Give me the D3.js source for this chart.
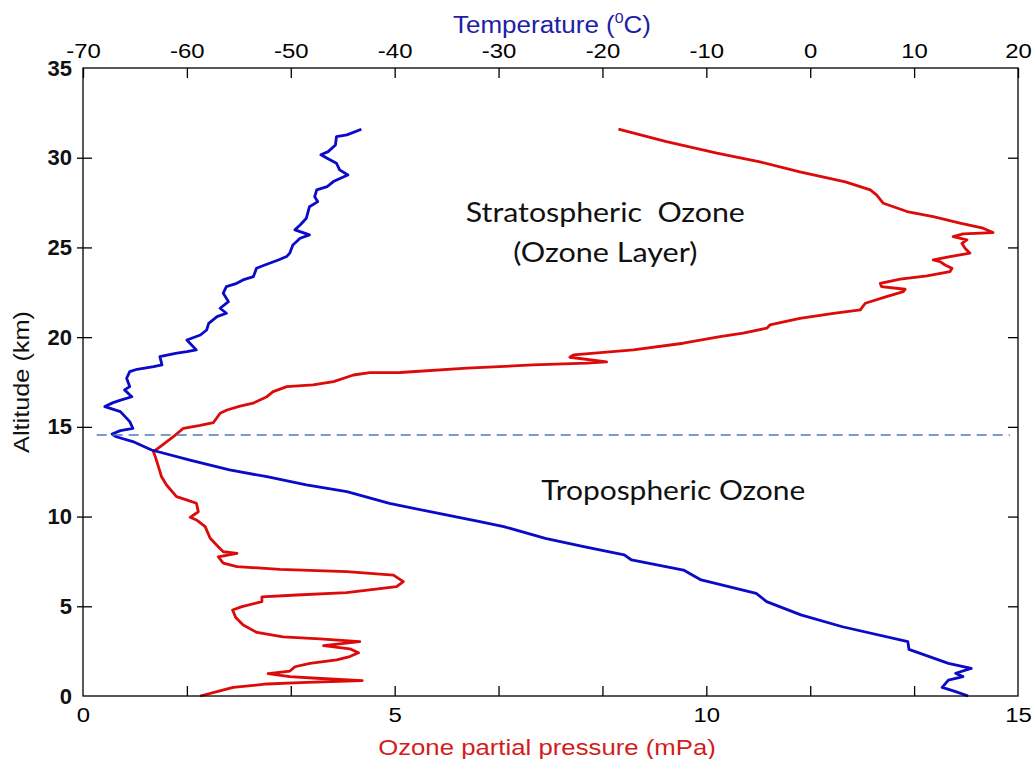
<!DOCTYPE html>
<html><head><meta charset="utf-8">
<script src="https://cdn.jsdelivr.net/npm/d3@7"></script>
<style>body{margin:0;background:#fff}svg{display:block}</style>
</head><body>
<svg id="chart" width="1036" height="759"></svg>
<script>
// ---- data ----
const altTicks = [0,5,10,15,20,25,30,35];
const ozoneTicks = [0,5,10,15];
const tempTicks = [-70,-60,-50,-40,-30,-20,-10,0,10,20];

const tempAlt = [31.59,31.27,31.18,30.71,30.34,30.16,29.97,29.69,29.32,29.04,
  28.91,28.67,28.39,28.21,27.83,27.55,27.27,26.63,26.25,25.98,
  25.70,25.51,25.14,24.68,24.49,24.30,24.02,23.84,23.37,23.19,
  23.00,22.82,22.45,21.98,21.61,21.33,21.14,20.77,20.40,20.12,
  19.84,19.29,19.19,19.10,18.91,18.45,18.36,18.21,18.08,17.71,
  17.24,17.06,16.68,16.50,16.35,16.13,15.85,15.29,14.92,14.79,
  14.60,14.45,14.18,13.71,13.15,12.60,12.22,11.76,11.39,10.74,
  10.27,9.72,9.44,8.79,8.32,7.86,7.58,7.02,6.47,5.72,
  5.26,4.52,3.86,3.03,2.60,1.82,1.54,1.27,1.08,0.89,
  0.48,0.24,0.0];
const tempVal = [-43.2,-44.6,-45.6,-45.7,-46.4,-47.1,-46.5,-45.6,-45.3,-44.5,
  -45.0,-45.9,-46.5,-47.5,-47.7,-47.4,-48.2,-48.5,-49.1,-49.6,
  -48.2,-49.1,-49.8,-50.1,-50.4,-51.2,-52.5,-53.3,-53.6,-54.6,
  -55.2,-56.2,-56.5,-56.0,-56.8,-56.2,-57.1,-57.9,-58.1,-58.7,
  -60.0,-59.1,-60.0,-61.1,-62.6,-62.4,-63.2,-64.8,-65.5,-65.8,
  -65.5,-66.0,-65.3,-66.3,-67.1,-67.9,-66.4,-65.5,-65.2,-66.4,
  -67.2,-66.8,-65.2,-63.4,-59.7,-55.9,-52.3,-48.5,-44.6,-40.5,
  -36.6,-31.8,-29.5,-25.5,-21.8,-17.9,-17.2,-12.2,-10.5,-5.2,
  -4.2,-0.9,3.1,9.4,9.5,13.3,15.5,14.0,14.7,13.3,
  12.7,14.0,15.2];

const ozoneAlt = [0,0.24,0.48,0.67,0.75,0.86,0.99,1.08,1.25,1.39,
  1.63,1.82,2.01,2.20,2.41,2.63,2.81,3.03,3.18,3.29,
  3.54,3.96,4.38,4.79,4.98,5.26,5.52,5.63,5.76,6.09,
  6.37,6.74,6.93,7.06,7.21,7.40,7.76,7.95,8.04,8.32,
  8.79,9.44,9.81,9.96,10.27,10.74,10.93,11.11,11.76,12.22,
  12.78,13.34,13.62,13.90,14.45,14.92,15.08,15.23,15.76,15.94,
  16.16,16.32,16.68,16.96,17.24,17.34,17.52,17.89,18.02,18.03,
  18.27,18.45,18.55,18.62,18.88,19.01,19.29,19.66,20.03,20.22,
  20.50,20.68,21.05,21.33,21.52,21.89,22.26,22.54,22.67,22.82,
  23.00,23.23,23.41,23.65,23.84,24.02,24.21,24.30,24.49,24.68,
  24.96,25.23,25.42,25.60,25.75,25.83,26.07,26.35,26.72,27.00,
  27.46,27.93,28.21,28.65,29.21,29.77,30.25,30.90,31.59];
const ozoneVal = [1.88,2.15,2.41,2.95,3.48,4.48,3.75,3.32,2.97,3.32,
  3.40,3.64,4.07,4.28,4.42,4.28,3.86,4.44,3.80,3.21,
  2.79,2.57,2.45,2.40,2.55,2.87,2.87,3.43,4.23,5.03,
  5.14,4.98,4.23,3.16,2.47,2.25,2.17,2.47,2.25,2.17,
  2.04,1.96,1.82,1.72,1.85,1.82,1.66,1.50,1.34,1.26,
  1.21,1.16,1.13,1.24,1.45,1.61,1.88,2.09,2.20,2.31,
  2.52,2.73,2.95,3.05,3.27,3.69,4.02,4.34,4.60,5.09,
  6.16,7.22,8.08,8.40,7.81,7.87,8.83,9.63,10.22,10.59,
  10.97,11.02,11.50,12.04,12.47,12.55,12.89,13.16,13.19,12.81,
  12.79,13.11,13.54,13.91,13.94,13.83,13.75,13.64,13.91,14.23,
  14.15,14.10,14.18,13.96,14.12,14.60,14.44,14.07,13.64,13.22,
  12.84,12.73,12.63,12.23,11.50,10.86,10.17,9.36,8.59];

const tropopauseAlt = 14.55;
const tropopauseOzone = [0.22, 14.87];

const noteTexts = ["Stratospheric  Ozone", "(Ozone Layer)", "Tropospheric Ozone"];
const noteOzone = [8.38, 8.38, 9.47];
const noteAlt = [26.42, 24.19, 10.93];

// ---- layout ----
const svg = d3.select("#chart");
const L = 83, R = 1018, T = 68, B = 696;
const x = d3.scaleLinear().domain([0,15]).range([L,R]);
const xt = d3.scaleLinear().domain([-70,20]).range([L,R]);
const y = d3.scaleLinear().domain([0,35]).range([B,T]);
const SX = 1.14;
const numFmt = d => String(d);   // plain hyphen-minus, as in the original

svg.append("rect").attr("width",1036).attr("height",759).attr("fill","#fff");

// lines
const tempData = tempAlt.map((a,i)=>({a, v: tempVal[i]}));
const ozData = ozoneAlt.map((a,i)=>({a, v: ozoneVal[i]}));
svg.append("path").datum(ozData)
  .attr("d", d3.line().x(d=>x(d.v)).y(d=>y(d.a)))
  .attr("fill","none").attr("stroke","#dd0a0a").attr("stroke-width",2.8).attr("stroke-linejoin","round");
svg.append("path").datum(tempData)
  .attr("d", d3.line().x(d=>xt(d.v)).y(d=>y(d.a)))
  .attr("fill","none").attr("stroke","#0a0ac8").attr("stroke-width",2.8).attr("stroke-linejoin","round");

// tropopause dashed line
svg.append("line")
  .attr("x1", x(tropopauseOzone[0])).attr("x2", x(tropopauseOzone[1]))
  .attr("y1", y(tropopauseAlt)).attr("y2", y(tropopauseAlt))
  .attr("stroke","#4a7ebb").attr("stroke-width",1.6).attr("stroke-dasharray","10,6");

// frame
svg.append("rect").attr("x",L).attr("y",T).attr("width",R-L).attr("height",B-T)
  .attr("fill","none").attr("stroke","#000").attr("stroke-width",1.3);

function styleAxis(g){
  g.select(".domain").remove();
  g.selectAll(".tick line").attr("stroke","#000").attr("stroke-width",1.3);
}

// top axis (temperature)
const gTop = svg.append("g").attr("transform",`translate(0,${T})`)
  .call(d3.axisTop(xt).tickValues(tempTicks).tickSize(-10).tickSizeOuter(0).tickPadding(10).tickFormat(numFmt));
styleAxis(gTop);
gTop.selectAll(".tick text").attr("font-family","'Liberation Sans',Arial,sans-serif").attr("font-size",21)
  .attr("fill","#000").attr("transform",`scale(${SX},1)`);

// bottom ticks (temperature positions, no labels)
const gBotT = svg.append("g").attr("transform",`translate(0,${B})`)
  .call(d3.axisBottom(xt).tickValues(tempTicks.slice(1,-1)).tickSize(-10).tickSizeOuter(0).tickFormat(""));
styleAxis(gBotT);

// bottom labels (ozone)
const gBot = svg.append("g").attr("transform",`translate(0,${B})`)
  .call(d3.axisBottom(x).tickValues(ozoneTicks).tickSize(0).tickSizeOuter(0).tickPadding(11).tickFormat(numFmt));
styleAxis(gBot);
gBot.selectAll(".tick text").attr("font-family","'Liberation Sans',Arial,sans-serif").attr("font-size",21)
  .attr("fill","#000").attr("transform",`scale(${SX},1)`);

// left axis
const gLeft = svg.append("g").attr("transform",`translate(${L},0)`)
  .call(d3.axisLeft(y).tickValues(altTicks).tickSize(0).tickSizeOuter(0).tickPadding(11).tickFormat(numFmt));
styleAxis(gLeft);
gLeft.selectAll(".tick text").attr("font-family","'Liberation Sans',Arial,sans-serif").attr("font-size",22)
  .attr("font-weight","bold").attr("fill","#111");
gLeft.selectAll(".tick").filter(d=>d>0 && d<35).append("line")
  .attr("x1",-6).attr("x2",9).attr("stroke","#000").attr("stroke-width",1.3);

// right ticks
const gRight = svg.append("g").attr("transform",`translate(${R},0)`)
  .call(d3.axisRight(y).tickValues(altTicks.slice(1,-1)).tickSize(-10).tickSizeOuter(0).tickFormat(""));
styleAxis(gRight);

// axis titles
const tTitle = svg.append("text")
  .attr("transform",`translate(552,33) scale(1.13,1)`)
  .attr("text-anchor","middle").attr("font-family","'Liberation Sans',Arial,sans-serif")
  .attr("font-size",23).attr("fill","#2020a6");
tTitle.append("tspan").text("Temperature (");
tTitle.append("tspan").text("0").attr("font-size",14).attr("dy",-10);
tTitle.append("tspan").text("C)").attr("dy",10);

svg.append("text")
  .attr("transform",`translate(547,755) scale(1.12,1)`)
  .attr("text-anchor","middle").attr("font-family","'Liberation Sans',Arial,sans-serif")
  .attr("font-size",23).attr("fill","#d41c1c")
  .text("Ozone partial pressure (mPa)");

svg.append("text")
  .attr("transform",`translate(29,382) rotate(-90) scale(1.15,1)`)
  .attr("text-anchor","middle").attr("font-family","'Liberation Sans',Arial,sans-serif")
  .attr("font-size",22).attr("fill","#111")
  .text("Altitude (km)");

// annotations
const noteWidths = [279, 184, 264];
svg.selectAll("text.note").data(noteTexts).join("text").attr("class","note")
  .attr("x",(d,i)=>x(noteOzone[i])).attr("y",(d,i)=>y(noteAlt[i]))
  .attr("text-anchor","middle").attr("font-family","Lato,'Open Sans',sans-serif")
  .attr("font-size",26).attr("fill","#111").style("white-space","pre")
  .attr("textLength",(d,i)=>noteWidths[i]).attr("lengthAdjust","spacingAndGlyphs")
  .text(d=>d);
</script>
</body></html>
